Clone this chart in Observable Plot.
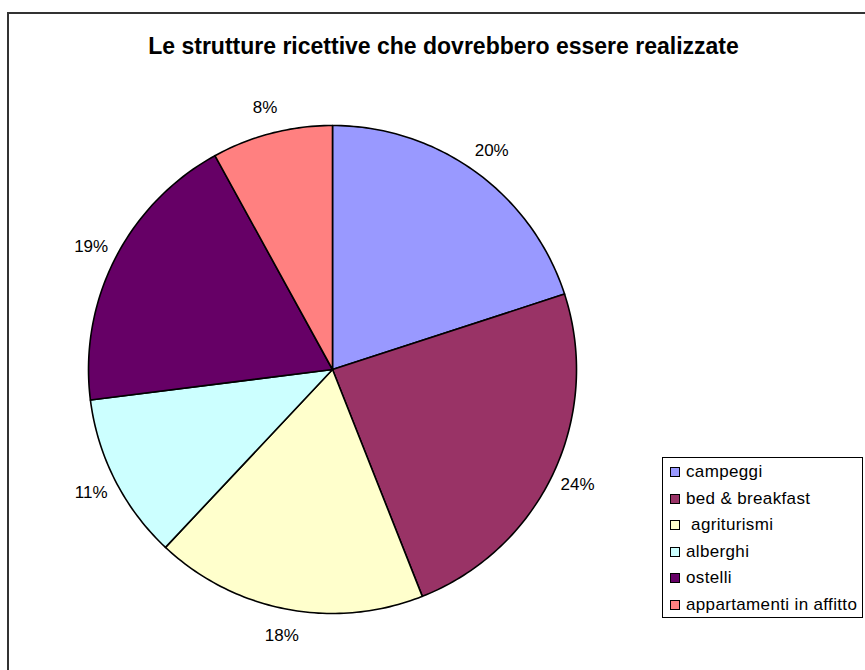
<!DOCTYPE html>
<html>
<head>
<meta charset="utf-8">
<script src="https://cdn.jsdelivr.net/npm/d3@7"></script>
<script src="https://cdn.jsdelivr.net/npm/@observablehq/plot@0.6"></script>
<style>
  html, body { margin: 0; padding: 0; background: #fff; }
  body { width: 865px; height: 670px; position: relative; overflow: hidden; font-family: Arial, "Liberation Sans", sans-serif; }
  #frame { position: absolute; left: 7px; top: 12px; width: 900px; height: 700px; border-left: 2px solid #333; border-top: 2px solid #333; }
  #chart { position: absolute; left: 0; top: 0; }
  #title { position: absolute; left: 0; top: 33px; width: 887px; text-align: center; font-weight: bold; font-size: 23px; line-height: 26px; color: #000; }
  #legend { position: absolute; left: 662px; top: 457px; width: 199px; height: 159px; border: 1px solid #000; background: #fff; }
  .item { position: absolute; left: 0; height: 20px; font-size: 17px; line-height: 20px; white-space: pre; letter-spacing: 0.35px; color: #000; }
  .sw { position: absolute; left: 7px; top: 5px; width: 8px; height: 8px; border: 1px solid #000; }
  .lbl { position: absolute; left: 23px; top: 0; }
</style>
</head>
<body>
<div id="frame"></div>
<div id="chart"></div>
<div id="title"></div>
<div id="legend"></div>
<script>
const title = "Le strutture ricettive che dovrebbero essere realizzate";
const categories = ["campeggi", "bed & breakfast", " agriturismi", "alberghi", "ostelli", "appartamenti in affitto"];
const values = [20, 24, 18, 11, 19, 8];
const colors = ["#9999FF", "#993366", "#FFFFCC", "#CCFFFF", "#660066", "#FF8080"];

document.getElementById("title").textContent = title;

const total = d3.sum(values);
// build slice outlines from cumulative fractions (clockwise from 12 o'clock)
const slicePts = [];
const labelPts = [];
let cum = 0;
categories.forEach((name, i) => {
  const a0 = cum / total * 2 * Math.PI;
  cum += values[i];
  const a1 = cum / total * 2 * Math.PI;
  const n = Math.max(2, Math.ceil((a1 - a0) / (Math.PI / 180)));
  slicePts.push({name, x: 0, y: 0});
  for (let k = 0; k <= n; k++) {
    const a = a0 + (a1 - a0) * k / n;
    slicePts.push({name, x: Math.sin(a), y: Math.cos(a)});
  }
  slicePts.push({name, x: 0, y: 0});
  const am = (a0 + a1) / 2;
  const rl = 1.11;
  labelPts.push({name, x: rl * Math.sin(am), y: rl * Math.cos(am), text: values[i] + "%"});
});

const cx = 332, cy = 369, R = 244;
const plot = Plot.plot({
  width: 865,
  height: 670,
  margin: 0,
  x: {domain: [-1, 1], range: [cx - R, cx + R], axis: null},
  y: {domain: [-1, 1], range: [cy + R, cy - R], axis: null},
  color: {domain: categories, range: colors},
  style: {background: "transparent", fontFamily: "Arial, 'Liberation Sans', sans-serif"},
  marks: [
    Plot.line(slicePts, {x: "x", y: "y", z: "name", fill: "name", stroke: "#000", strokeWidth: 1.6, curve: "linear"}),
    Plot.text(labelPts, {x: "x", y: "y", text: "text", fontSize: 17, fill: "#000", letterSpacing: "-0.5"})
  ]
});
document.getElementById("chart").appendChild(plot);

const legend = document.getElementById("legend");
categories.forEach((name, i) => {
  const item = document.createElement("div");
  item.className = "item";
  item.style.top = (4 + i * 26.6) + "px";
  const sw = document.createElement("div");
  sw.className = "sw";
  sw.style.background = colors[i];
  const lbl = document.createElement("div");
  lbl.className = "lbl";
  lbl.textContent = name;
  item.appendChild(sw);
  item.appendChild(lbl);
  legend.appendChild(item);
});
</script>
</body>
</html>
